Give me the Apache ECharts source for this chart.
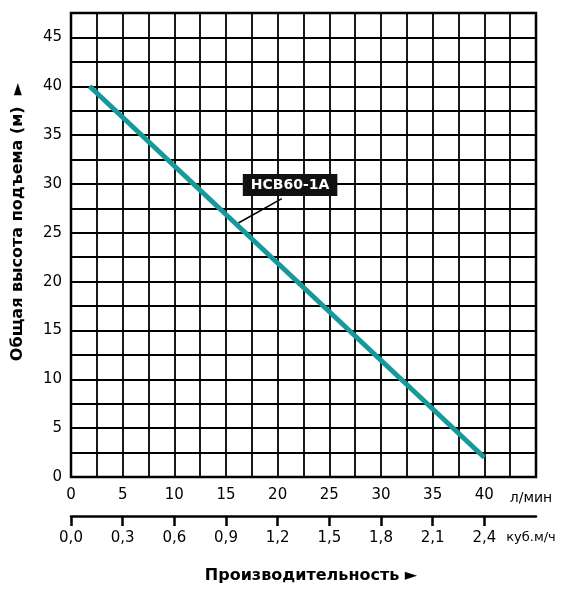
<!DOCTYPE html>
<html>
<head>
<meta charset="utf-8">
<script src="https://cdn.jsdelivr.net/npm/echarts@6/dist/echarts.min.js"></script>
<style>
  html, body { margin: 0; padding: 0; background: #fff; }
  #chart { width: 566px; height: 589px; }
</style>
</head>
<body>
<div id="chart"></div>
<script>
// данные кривой насоса (л/мин, м)
const flowLpm = [1.8, 40]
const headM = [40, 2]

// подписи осей
const lpmTicks = [0, 5, 10, 15, 20, 25, 30, 35, 40]
const m3hLabels = ['0,0', '0,3', '0,6', '0,9', '1,2', '1,5', '1,8', '2,1', '2,4']
const headTicks = [0, 5, 10, 15, 20, 25, 30, 35, 40, 45]

// выноска с названием модели
const modelName = 'HCB60-1A'
const calloutAt = [21.2, 29.9]
const leader = [[20.4, 28.5], [16.2, 26.0]]

const font = 'DejaVu Sans'
const chart = echarts.init(document.getElementById('chart'))

const option = {
  animation: false,
  grid: { left: 71, right: 30, top: 13, bottom: 112, show: true, borderColor: '#000', borderWidth: 2.5 },
  xAxis: [
    {
      type: 'value', min: 0, max: 45, interval: 2.5,
      axisLine: { show: false },
      axisTick: { show: false },
      splitLine: { lineStyle: { color: '#000', width: 1.8 } },
      axisLabel: {
        margin: 11, color: '#000', fontFamily: font, fontSize: 15,
        formatter: v => v === 45 ? '{u|л/мин}' : (lpmTicks.includes(v) ? String(v) : ''),
        rich: { u: { fontFamily: font, fontSize: 14, color: '#000', padding: [3, 10, 0, 0] } }
      }
    },
    {
      type: 'value', min: 0, max: 45, position: 'bottom', offset: 39,
      axisLine: { show: true, lineStyle: { color: '#000', width: 2.5 } },
      axisTick: { show: true, customValues: lpmTicks, length: 10, lineStyle: { color: '#000', width: 2.5 } },
      splitLine: { show: false },
      axisLabel: {
        margin: 15, color: '#000', fontFamily: font, fontSize: 15,
        customValues: lpmTicks.concat([45]),
        formatter: v => v === 45 ? '{u|куб.м/ч}' : m3hLabels[lpmTicks.indexOf(v)],
        rich: { u: { fontFamily: font, fontSize: 13, color: '#000', padding: [0, 10, 2, 0] } }
      }
    }
  ],
  yAxis: {
    type: 'value', min: 0, max: 47.5, interval: 2.5,
    axisLine: { show: false },
    axisTick: { show: false },
    splitLine: { lineStyle: { color: '#000', width: 1.8 } },
    axisLabel: {
      margin: 9, color: '#000', fontFamily: font, fontSize: 15,
      formatter: v => headTicks.includes(v) ? String(v) : ''
    }
  },
  graphic: [
    {
      type: 'text', x: 311, y: 576, style: {
        text: 'Производительность ►', fill: '#000', font: 'bold 16px "DejaVu Sans"',
        align: 'center', verticalAlign: 'middle'
      }
    },
    {
      type: 'text', x: 18, y: 222, rotation: Math.PI / 2, style: {
        text: 'Общая высота подъема (м)  ►', fill: '#000', font: 'bold 16px "DejaVu Sans"',
        align: 'center', verticalAlign: 'middle'
      }
    }
  ],
  series: [
    {
      type: 'line',
      data: flowLpm.map((x, i) => [x, headM[i]]),
      symbol: 'none',
      lineStyle: { color: '#17989a', width: 5 },
      z: 3
    },
    {
      type: 'line',
      data: leader,
      symbol: 'none',
      lineStyle: { color: '#000', width: 1.5 },
      z: 2,
      markPoint: {
        symbol: 'rect', symbolSize: 1, itemStyle: { color: 'transparent' },
        data: [{ coord: calloutAt }],
        label: {
          show: true, position: 'inside', formatter: modelName,
          backgroundColor: '#111', color: '#fff', fontFamily: font, fontWeight: 'bold',
          fontSize: 14, padding: [4, 8, 4, 8]
        }
      }
    }
  ]
}

chart.setOption(option)
window.addEventListener('resize', () => chart.resize())
</script>
</body>
</html>
